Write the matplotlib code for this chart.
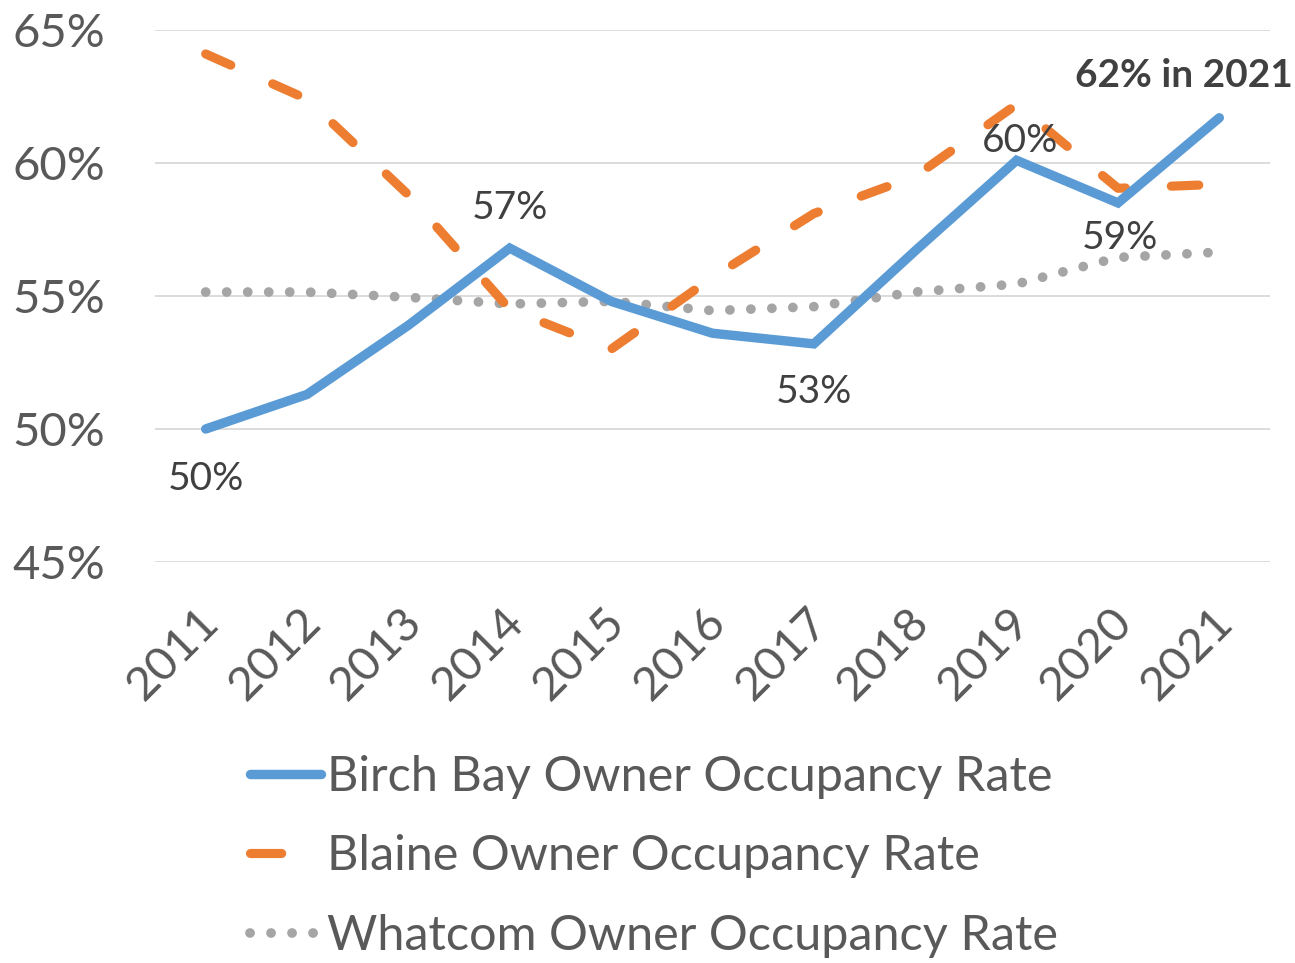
import matplotlib
matplotlib.use("Agg")
import matplotlib.pyplot as plt
import matplotlib.transforms as mtransforms
from matplotlib.ticker import PercentFormatter

plt.rcParams["font.family"] = ["Lato", "DejaVu Sans"]

C_BIRCH = "#5B9BD5"; C_BLAINE = "#ED7D31"; C_WHATCOM = "#A5A5A5"
C_GRID = "#D9D9D9"; C_TICK = "#595959"; C_LABEL = "#404040"

years = ["2011", "2012", "2013", "2014", "2015", "2016", "2017", "2018", "2019", "2020", "2021"]
birch_bay = [50.0, 51.3, 53.9, 56.8, 54.8, 53.6, 53.2, 56.7, 60.1, 58.5, 61.7]
blaine    = [64.1, 62.4, 58.8, 54.5, 53.0, 55.7, 58.1, 59.5, 62.2, 59.05, 59.2]
whatcom   = [55.15, 55.15, 54.95, 54.7, 54.8, 54.45, 54.6, 55.15, 55.45, 56.45, 56.65]

# data labels on the Birch Bay line: (index, text, bold, dx px, dy px to baseline)
labels = [(0, "50%", False, 0, -61), (3, "57%", False, 0, 29), (6, "53%", False, 0, -59),
          (8, "60%", False, 3, 8), (9, "59%", False, 2, -46), (10, "62% in 2021", True, -35, 31)]

fig = plt.figure(figsize=(12.95, 9.63), dpi=100)
ax = fig.add_axes([155/1295, 1 - 562/963, (1270 - 155)/1295, (562 - 30)/963])

x = list(range(len(years)))
ax.plot(x, whatcom, color=C_WHATCOM, lw=7.0, dashes=(0.01, 2.15), dash_capstyle="round",
        label="Whatcom Owner Occupancy Rate", clip_on=False, zorder=3)
ax.plot(x, blaine, color=C_BLAINE, lw=6.6, dashes=(3.0, 5.0), dash_capstyle="round",
        label="Blaine Owner Occupancy Rate", clip_on=False, zorder=4)
ax.plot(x, birch_bay, color=C_BIRCH, lw=6.8, solid_capstyle="round", solid_joinstyle="miter",
        label="Birch Bay Owner Occupancy Rate", clip_on=False, zorder=5)

for i, t, bold, dx, dy in labels:
    ax.annotate(t, (x[i], birch_bay[i]), xytext=(dx, dy), textcoords="offset pixels",
                ha="center", va="baseline", fontsize=28, color=C_LABEL,
                fontweight="bold" if bold else "normal", zorder=6)

ax.set_xlim(-0.5, len(years) - 0.5)
ax.set_ylim(45, 65)
ax.set_yticks([45, 50, 55, 60, 65])
ax.yaxis.set_major_formatter(PercentFormatter(decimals=0))
ax.set_xticks(x)
ax.set_xticklabels(years, rotation=45, ha="right", rotation_mode="anchor")
ax.tick_params(axis="y", length=0, pad=36, labelsize=34, labelcolor=C_TICK)
ax.tick_params(axis="x", length=0, pad=30, labelsize=34, labelcolor=C_TICK)
shift = mtransforms.ScaledTranslation(-0.08, 0.03, fig.dpi_scale_trans)
for lab in ax.get_xticklabels():
    lab.set_transform(lab.get_transform() + shift)
ax.grid(axis="y", color=C_GRID, lw=1.3)
ax.set_axisbelow(True)
for s in ax.spines.values():
    s.set_visible(False)

h, l = ax.get_legend_handles_labels()
leg = fig.legend(h[::-1], l[::-1], loc="upper left", bbox_to_anchor=(250/1295, 1 - 755/963),
                 frameon=False, fontsize=35, labelcolor=C_TICK, handlelength=1.47,
                 handletextpad=0.12, labelspacing=0.73, borderaxespad=0, borderpad=0)
leg.legend_handles[1].set_dashes((3.4, 10))

fig.savefig("out.png", dpi=100)
